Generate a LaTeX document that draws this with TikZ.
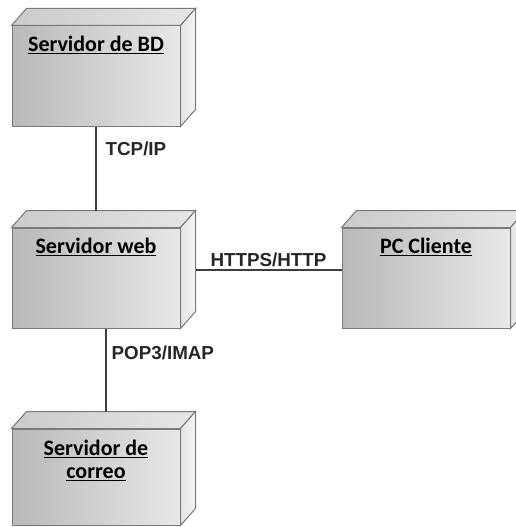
\documentclass[tikz,border=0pt]{standalone}
\usepackage{fontspec}
\usepackage{xcolor}
\usepackage{tikz}

\newfontfamily\namefont{Carlito}[BoldFont={Carlito Bold}]
\newfontfamily\linkfont{Liberation Sans}

\definecolor{boxline}{HTML}{7A7A7A}
\definecolor{faceL}{HTML}{B8B8B8}
\definecolor{faceR}{HTML}{E8E8E8}
\definecolor{topL}{HTML}{CACACA}
\definecolor{topR}{HTML}{E6E6E6}
\definecolor{sideL}{HTML}{E4E4E4}
\definecolor{sideR}{HTML}{F4F4F4}
\definecolor{linkcol}{HTML}{3C3C3C}

\tikzset{
  depnode/.style={draw=boxline, line width=1pt, left color=faceL, right color=faceR,
    minimum width=168pt, minimum height=100pt, inner sep=0pt},
  topface/.style={draw=boxline, line width=1pt, left color=topL, right color=topR},
  sideface/.style={draw=boxline, line width=1pt, left color=sideL, right color=sideR},
  nodename/.style={font=\namefont\bfseries\fontsize{22}{23}\selectfont, inner sep=0pt, align=center},
  link/.style={draw=linkcol, line width=1.3pt},
  linklabel/.style={font=\linkfont\bfseries\fontsize{18.8}{20}\selectfont, text=black!85, inner sep=0pt}
}

% top and right faces of a deployment node
\newcommand{\nodedepth}[1]{%
  \filldraw[topface] (#1.north west) -- ++(15,-17) -- ([shift={(15,-17)}]#1.north east) -- (#1.north east) -- cycle;
  \filldraw[sideface] (#1.north east) -- ++(15,-17) -- ([shift={(15,-17)}]#1.south east) -- (#1.south east) -- cycle;
}

\begin{document}
\begin{tikzpicture}[x=1pt, y=-1pt]
  \useasboundingbox (0,0) rectangle (516,527);
  \clip (0,0) rectangle (516,527);

  \node[depnode] (bd) at (96,76) {};
  \node[depnode] (web) at (96,278) {};
  \node[depnode] (cliente) at (426,278) {};
  \node[depnode, minimum height=96pt] (correo) at (96,477) {};
  \nodedepth{bd}
  \nodedepth{web}
  \nodedepth{cliente}
  \nodedepth{correo}

  \node[nodename, anchor=base] (bd-name) at ([yshift=-26pt]bd.north) {\underline{Servidor de BD}};
  \node[nodename, anchor=base] (web-name) at ([yshift=-26pt]web.north) {\underline{Servidor web}};
  \node[nodename, anchor=base] (cliente-name) at ([yshift=-26pt]cliente.north) {\underline{PC Cliente}};
  \node[nodename, anchor=north] (correo-name) at ([yshift=-11pt]correo.north) {\underline{Servidor de}\\\underline{correo}};

  % links
  \draw[link] (bd.south) -- ([yshift=17pt]web.north)
    node[linklabel, pos=.35, anchor=base west, xshift=9pt] {TCP/IP};
  \draw[link] ([shift={(15,-8)}]web.east) coordinate (web-side) -- (web-side -| cliente.west)
    node[linklabel, midway, anchor=base, yshift=3.5pt] {HTTPS/HTTP};
  \draw[link] ([xshift=10pt]web.south) -- ([shift={(10,-17)}]correo.north)
    node[linklabel, pos=.37, anchor=base west, xshift=5pt] {POP3/IMAP};
\end{tikzpicture}
\end{document}
